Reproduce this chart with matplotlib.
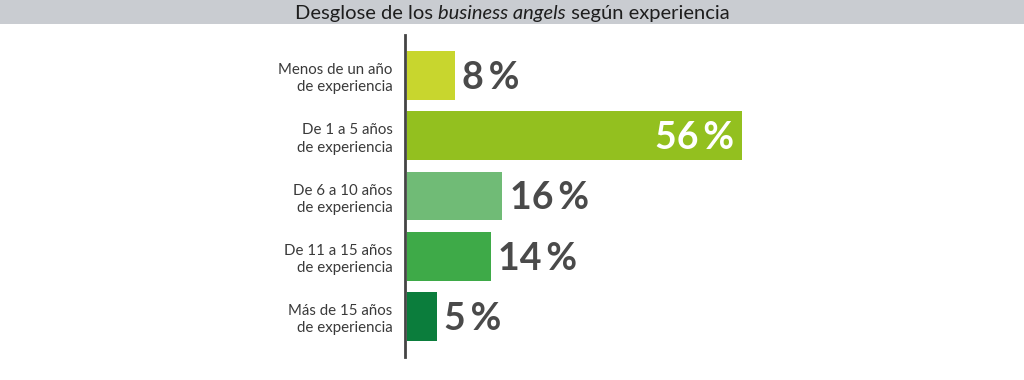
import matplotlib
matplotlib.use("Agg")
import matplotlib.pyplot as plt
from matplotlib.patches import Rectangle

categories = ["Menos de un año\nde experiencia",
              "De 1 a 5 años\nde experiencia",
              "De 6 a 10 años\nde experiencia",
              "De 11 a 15 años\nde experiencia",
              "Más de 15 años\nde experiencia"]
values = [8, 56, 16, 14, 5]
colors = ["#c8d62e", "#93c01f", "#70bb76", "#3eaa48", "#0b7d3c"]

font = ["Lato", "DejaVu Sans"]
text_col = "#3a3a3a"

fig = plt.figure(figsize=(10.24, 3.8), dpi=100)

# grey title band
fig.patches.append(Rectangle((0, 1 - 24 / 380), 1, 24 / 380, transform=fig.transFigure,
                             facecolor="#c9ccd1", edgecolor="none", zorder=0))

# title in three pieces so the middle can be italic
parts = [("Desglose de los ", "normal"), ("business angels", "italic"), (" según experiencia", "normal")]
fig.canvas.draw()
r = fig.canvas.get_renderer()
objs = []
for s, st in parts:
    t = fig.text(0, 1 - 13 / 380, s, fontsize=14.5, family=font, style=st,
                 color="#1e1e1e", va="center", ha="left")
    objs.append(t)
widths = [t.get_window_extent(renderer=r).width for t in objs]
x = (1024 - sum(widths)) / 2
for t, w in zip(objs, widths):
    t.set_x(x / 1024)
    x += w

ax = fig.add_axes([405 / 1024, 1 - 357 / 380, 100 * 5.98 / 1024, 322 / 380])
pos = list(range(len(values)))
ax.barh(pos, values, height=0.81, color=colors, left=0.3)
ax.set_xlim(0, 100)
ax.set_ylim(4.675, -0.675)

for p, v in zip(pos, values):
    label = f"{v}\u2009%"
    if v > 40:
        ax.text(v - 1, p + 0.04, label, ha="right", va="center", color="white",
                fontsize=27, fontweight="bold", family=font)
    else:
        ax.text(v + 1.6, p + 0.04, label, ha="left", va="center", color="#4a4a4a",
                fontsize=27, fontweight="bold", family=font)

ax.set_yticks(pos)
ax.set_yticklabels(categories, fontsize=10.8, family=font, color=text_col, linespacing=1.3)
ax.tick_params(axis="y", length=0, pad=9)
ax.set_xticks([])
for s in ["top", "right", "bottom"]:
    ax.spines[s].set_visible(False)
ax.spines["left"].set_linewidth(2)
ax.spines["left"].set_color("#444444")
for lab in ax.get_yticklabels():
    lab.set_horizontalalignment("right")

fig.savefig("out.png", dpi=100)
